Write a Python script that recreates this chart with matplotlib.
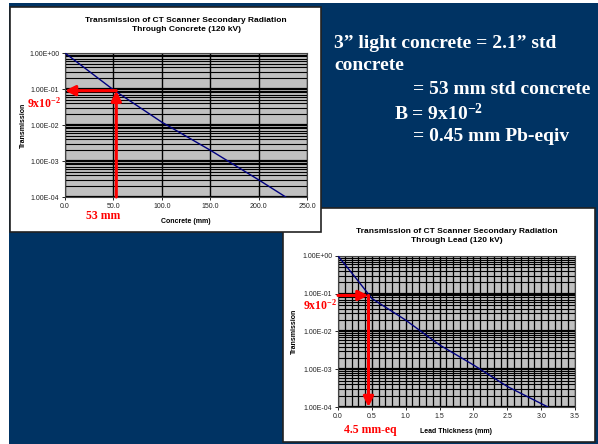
import numpy as np
import matplotlib
matplotlib.use("Agg")
import matplotlib.pyplot as plt
from matplotlib.patches import Rectangle
from matplotlib.ticker import FixedLocator, FuncFormatter, NullFormatter

plt.rcParams["mathtext.fontset"] = "custom"
plt.rcParams["mathtext.rm"] = "Liberation Serif:bold"
plt.rcParams["mathtext.bf"] = "Liberation Serif:bold"
plt.rcParams["mathtext.it"] = "Liberation Serif:bold"

# ---- data ----
concrete_mm = [0, 50, 100, 150, 200, 228]
concrete_T = [1.0, 0.095, 0.012, 0.002, 0.0003, 0.0001]

lead_mm = [0.0, 0.25, 0.5, 1.0, 1.5, 2.0, 2.5, 3.1]
lead_T = [1.0, 0.28, 0.075, 0.02, 0.0044, 0.0013, 0.00035, 0.0001]

concrete_xticks = [0, 50, 100, 150, 200, 250]
lead_xticks = [0.0, 0.5, 1.0, 1.5, 2.0, 2.5, 3.0, 3.5]
decades = [1e-4, 1e-3, 1e-2, 1e-1, 1e0]

B_value = 0.09
concrete_equiv = 53
lead_equiv = 0.45

W, H = 598, 444
NAVY = "#003363"
GRAY = "#C0C0C0"
LINE = "#000080"
SANS = ["Liberation Sans", "DejaVu Sans"]
SERIF = ["Liberation Serif", "DejaVu Serif"]

fig = plt.figure(figsize=(W / 100, H / 100), dpi=100)
fig.patch.set_facecolor("white")

bg = fig.add_axes([0, 0, 1, 1])
bg.set_xlim(0, W)
bg.set_ylim(H, 0)
bg.axis("off")
bg.add_patch(Rectangle((9, 3), W - 9, H - 3, facecolor=NAVY, edgecolor="none"))
# panel 2 (behind), panel 1 (front)
bg.add_patch(Rectangle((283, 208), 312, 234, facecolor="white", edgecolor="#222222", lw=1.2))
bg.add_patch(Rectangle((10, 7), 311, 225, facecolor="white", edgecolor="#222222", lw=1.2))


def px_axes(l, t, r, b):
    return fig.add_axes([l / W, 1 - b / H, (r - l) / W, (b - t) / H])


def style_log_axes(ax, xlim, xticks, xminor, xfmt):
    ax.set_facecolor(GRAY)
    ax.set_yscale("log")
    ax.set_ylim(1e-4, 1)
    ax.set_xlim(*xlim)
    ax.yaxis.set_major_locator(FixedLocator(decades))
    minors = [m * d for d in decades[:-1] for m in range(2, 10)]
    ax.yaxis.set_minor_locator(FixedLocator(minors))
    ax.yaxis.set_minor_formatter(NullFormatter())
    ax.yaxis.set_major_formatter(FuncFormatter(lambda v, p: f"{v:.2E}"))
    ax.xaxis.set_major_locator(FixedLocator(xticks))
    if xminor is not None:
        ax.xaxis.set_minor_locator(FixedLocator(xminor))
    ax.xaxis.set_major_formatter(FuncFormatter(xfmt))
    ax.grid(True, which="major", axis="y", color="black", lw=1.6)
    ax.grid(True, which="minor", axis="y", color="black", lw=0.8)
    ax.grid(True, which="major", axis="x", color="black", lw=1.0)
    if xminor is not None:
        ax.grid(True, which="minor", axis="x", color="black", lw=0.9)
    ax.set_axisbelow(True)
    ax.tick_params(which="major", labelsize=5, length=2, width=0.6, pad=2, colors="black")
    ax.tick_params(which="minor", length=0)
    for lab in ax.get_xticklabels() + ax.get_yticklabels():
        lab.set_family(SANS)
        lab.set_color("#222222")
    for s in ax.spines.values():
        s.set_color("#444444")
        s.set_linewidth(0.8)


arrow = dict(arrowstyle="-|>", color="red", lw=2.2, mutation_scale=15, shrinkA=0, shrinkB=0)

# ---- chart 1: concrete ----
ax1 = px_axes(65, 53, 307, 197)
ax1.set_zorder(2)
style_log_axes(ax1, (0, 250), concrete_xticks, None, lambda v, p: f"{v:.1f}")
ax1.plot(concrete_mm, concrete_T, color=LINE, lw=1.0, zorder=3)
ax1.set_xlabel("Concrete (mm)", fontsize=5, fontweight="bold", family=SANS, labelpad=6)
ax1.set_ylabel("Transmission", fontsize=5, fontweight="bold", family=SANS, labelpad=2)
ax1.set_title("Transmission of CT Scanner Secondary Radiation\nThrough Concrete (120 kV)",
              fontsize=6, fontweight="bold", family=SANS, pad=16, linespacing=1.4)
ax1.annotate("", xy=(concrete_equiv, B_value), xytext=(concrete_equiv, 1e-4),
             arrowprops=arrow, annotation_clip=False, zorder=5)
ax1.annotate("", xy=(0, B_value), xytext=(concrete_equiv, B_value),
             arrowprops=arrow, annotation_clip=False, zorder=5)

# ---- chart 2: lead ----
ax2 = px_axes(338, 256, 575, 407)
ax2.set_zorder(2)
lead_minor = [i / 10 for i in range(0, 36)]
style_log_axes(ax2, (0, 3.5), lead_xticks, lead_minor, lambda v, p: f"{v:.1f}")
ax2.plot(lead_mm, lead_T, color=LINE, lw=1.0, zorder=3)
ax2.set_xlabel("Lead Thickness (mm)", fontsize=5, fontweight="bold", family=SANS, labelpad=6)
ax2.set_ylabel("Transmission", fontsize=5, fontweight="bold", family=SANS, labelpad=3)
ax2.set_title("Transmission of CT Scanner Secondary Radiation\nThrough Lead (120 kV)",
              fontsize=6, fontweight="bold", family=SANS, pad=10, linespacing=1.4)
ax2.annotate("", xy=(lead_equiv, B_value), xytext=(0, B_value),
             arrowprops=arrow, annotation_clip=False, zorder=5)
ax2.annotate("", xy=(lead_equiv, 1e-4), xytext=(lead_equiv, B_value),
             arrowprops=arrow, annotation_clip=False, zorder=5)

# ---- red labels ----
over = fig.add_axes([0, 0, 1, 1])
over.set_xlim(0, W)
over.set_ylim(H, 0)
over.axis("off")
over.set_zorder(10)
red = dict(color="red", fontweight="bold", family=SERIF, fontsize=8.5, ha="center", va="center")
B_txt = r"9x10$^{-2}$"
over.text(44, 103, B_txt, **red)
over.text(103, 216, f"{concrete_equiv} mm", **red)
over.text(320, 305, B_txt, **red)
over.text(370, 430, "4.5 mm-eq", **red)

white = dict(color="white", fontweight="bold", family=SERIF, fontsize=14, ha="left", va="center")
over.text(334, 43, "3” light concrete = 2.1” std", **white)
over.text(334, 66, "concrete", **white)
over.text(413, 90, "= 53 mm std concrete", **white)
over.text(394, 113, "B = 9x10$^{-2}$", **white)
over.text(413, 136, "= 0.45 mm Pb-eqiv", **white)

fig.savefig("out.png", dpi=100)
